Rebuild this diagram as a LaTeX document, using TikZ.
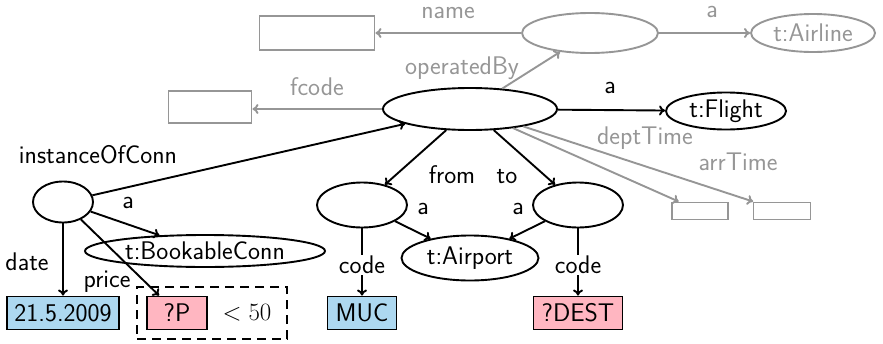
\documentclass[tikz,border=0pt]{standalone}
\usetikzlibrary{shapes.geometric,arrows.meta}
\definecolor{lgray}{RGB}{150,150,150}
\definecolor{valblue}{RGB}{173,216,240}
\definecolor{valpink}{RGB}{255,182,193}
\begin{document}
\begin{tikzpicture}[x=1pt,y=-1pt,
  font=\sffamily\fontsize{25.5}{30}\selectfont,
  line width=1.9pt,
  ell/.style={draw, ellipse, inner sep=0pt},
  grayell/.style={ell, draw=lgray, text=lgray},
  grayrect/.style={draw=lgray, rectangle, inner sep=0pt},
  val/.style={draw, rectangle, inner sep=0pt, minimum height=33},
  lbl/.style={inner sep=0pt},
  graylbl/.style={lbl, text=lgray},
  arr/.style={-{To[length=6pt,width=10pt]}},
  grayarr/.style={arr, draw=lgray},
]
\useasboundingbox (0,0) rectangle (883,343);

% airline part (gray)
\node[grayrect, minimum width=115, minimum height=34] (nameval) at (317,33) {};
\node[grayell, minimum width=136, minimum height=40] (airline) at (590,33) {};
\node[grayell, minimum width=124, minimum height=38] (airlinecls) at (813,33) {t:Airline};

% flight
\node[ell, minimum width=174, minimum height=42] (flight) at (470,109) {};
\node[grayrect, minimum width=83, minimum height=32] (fcodeval) at (210,107) {};
\node[ell, minimum width=120, minimum height=37] (flightcls) at (726,111) {t:Flight};
\node[grayrect, minimum width=56, minimum height=17] (dept) at (700,211) {};
\node[grayrect, minimum width=57, minimum height=17] (arrt) at (782,211) {};

% connection
\node[ell, minimum width=60, minimum height=41] (conn) at (63,202) {};
\node[ell, minimum width=240, minimum height=32] (bookable) at (205,251) {t:BookableConn};
\node[val, fill=valblue, minimum width=112] (date) at (63,313) {21.5.2009};
\node[draw, dashed, dash pattern=on 9pt off 6pt, inner sep=0pt,
      minimum width=150, minimum height=52] (cond) at (212,313) {};
\node[val, fill=valpink, minimum width=60] (price) at (177,313) {?P};
\node[lbl] (less) at (247,313) {$<50$};

% airports
\node[ell, minimum width=90, minimum height=45] (from) at (362,205) {};
\node[ell, minimum width=90, minimum height=45] (to) at (578,205) {};
\node[ell, minimum width=137, minimum height=45] (airport) at (470,258) {t:Airport};
\node[val, fill=valblue, minimum width=69] (muc) at (362,313) {MUC};
\node[val, fill=valpink, minimum width=89] (dest) at (578,313) {?DEST};

% gray edges
\draw[grayarr] (airline) -- (nameval);
\draw[grayarr] (airline) -- (airlinecls);
\draw[grayarr] (flight) -- (airline);
\draw[grayarr] (flight.west) -- (flight.west -| fcodeval.east);
\draw[grayarr] (flight) -- (dept);
\draw[grayarr] (flight) -- (arrt);

% black edges
\draw[arr] (flight) -- (flightcls);
\draw[arr] (conn) -- (flight);
\draw[arr] (conn) -- (bookable);
\draw[arr] (conn) -- (conn |- date.north);
\draw[arr] (conn) -- (price);
\draw[arr] (flight) -- (from);
\draw[arr] (flight) -- (to);
\draw[arr] (from) -- (airport);
\draw[arr] (to) -- (airport);
\draw[arr] (from) -- node[fill=white, inner sep=1pt, yshift=-3pt] (codeA) {code} (muc);
\draw[arr] (to) -- node[fill=white, inner sep=1pt, yshift=-3pt] (codeB) {code} (dest);

% edge labels
\node[graylbl] (lname) at (448,13) {name};
\node[graylbl] (la1) at (712,12) {a};
\node[graylbl] (lop) at (462,68) {operatedBy};
\node[graylbl] (lfcode) at (317,87) {fcode};
\node[graylbl] (ldept) at (645,138) {deptTime};
\node[graylbl] (larr) at (738,162) {arrTime};
\node[lbl] (la2) at (610,88) {a};
\node[lbl] (linst) at (98,155) {instanceOfConn};
\node[lbl] (la3) at (128,203) {a};
\node[lbl] (ldate) at (27,262) {date};
\node[lbl] (lprice) at (107,282) {price};
\node[lbl] (lfrom) at (452,175) {from};
\node[lbl] (lto) at (507,177) {to};
\node[lbl] (la4) at (423,209) {a};
\node[lbl] (la5) at (518,209) {a};
\end{tikzpicture}
\end{document}
